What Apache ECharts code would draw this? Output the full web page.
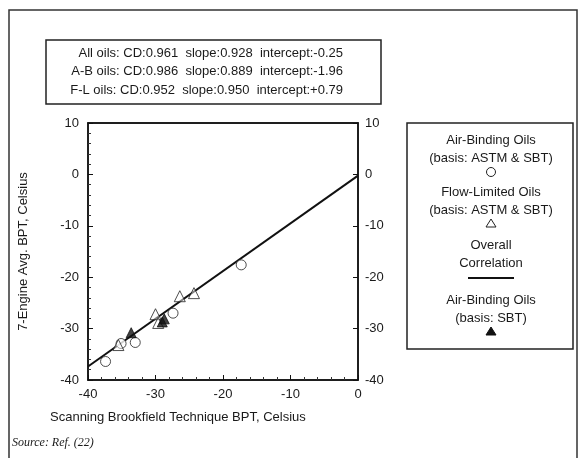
<!DOCTYPE html>
<html><head><meta charset="utf-8">
<script src="https://cdn.jsdelivr.net/npm/echarts@6/dist/echarts.min.js"></script>
<style>html,body{margin:0;padding:0;background:#fff}#c{width:586px;height:458px}</style>
</head><body><div id="c"></div>
<script>
const airBinding = [[-37.4,-36.4],[-35.1,-32.9],[-33.0,-32.7],[-27.4,-27.0],[-17.3,-17.6]];
const flowLimited = [[-26.4,-23.7],[-24.3,-23.1],[-30.0,-27.2],[-29.6,-28.9],[-35.5,-33.2]];
const airBindingSBT = [[-33.6,-30.8],[-29.0,-28.7],[-28.7,-28.1]];
const fitX = [-40, 0];
const fitY = [-37.37, -0.25];
const statLines = [
  'All oils: CD:0.961  slope:0.928  intercept:-0.25',
  'A-B oils: CD:0.986  slope:0.889  intercept:-1.96',
  'F-L oils: CD:0.952  slope:0.950  intercept:+0.79'
];
const legendItems = [
  {text:'Air-Binding Oils\n(basis: ASTM & SBT)', mark:'circle'},
  {text:'Flow-Limited Oils\n(basis: ASTM & SBT)', mark:'triangle'},
  {text:'Overall\nCorrelation', mark:'line'},
  {text:'Air-Binding Oils\n(basis: SBT)', mark:'filled'}
];
const xTitle = 'Scanning Brookfield Technique BPT, Celsius';
const yTitle = '7-Engine Avg. BPT, Celsius';
const source = 'Source: Ref. (22)';

const FONT = '"Liberation Sans", Arial, sans-serif';
const TXT = '#1a1a1a';
const chart = echarts.init(document.getElementById('c'), null, {renderer:'canvas'});

const axisCommon = {
  axisLine:{show:true, onZero:false, lineStyle:{color:'#111', width:1.5}},
  axisTick:{show:true, inside:true, length:5, lineStyle:{color:'#111'}},
  minorTick:{show:true, splitNumber:5, length:3, lineStyle:{color:'#333'}},
  splitLine:{show:false},
  axisLabel:{color:TXT, fontFamily:FONT, fontSize:13}
};

const graphics = [];
graphics.push({type:'rect', shape:{x:9, y:10, width:568, height:470}, style:{fill:'none', stroke:'#333', lineWidth:1.5}, z:0});
graphics.push({type:'rect', shape:{x:46, y:40, width:335, height:64}, style:{fill:'none', stroke:'#222', lineWidth:1.5}});
statLines.forEach((t,i)=>{
  graphics.push({type:'text', x:343, y:53+i*18.5, style:{text:t, fill:TXT, font:'13px '+FONT, textAlign:'right', textVerticalAlign:'middle'}});
});
graphics.push({type:'rect', shape:{x:407, y:123, width:166, height:226}, style:{fill:'none', stroke:'#222', lineWidth:1.5}});
const legCx = 491;
const legTops = [140, 192, 245, 300];
legendItems.forEach((it,i)=>{
  const y0 = legTops[i];
  graphics.push({type:'text', x:legCx, y:y0+9, style:{text:it.text, fill:TXT, font:'13px '+FONT, textAlign:'center', textVerticalAlign:'middle', lineHeight:18}});
  const my = y0 + 33;
  if (it.mark==='circle') graphics.push({type:'circle', shape:{cx:legCx, cy:my-1, r:4.5}, style:{fill:'#fff', stroke:'#222', lineWidth:1}});
  if (it.mark==='triangle') graphics.push({type:'polygon', shape:{points:[[legCx,my-6],[legCx-5,my+2],[legCx+5,my+2]]}, style:{fill:'#fff', stroke:'#222', lineWidth:1}});
  if (it.mark==='filled') graphics.push({type:'polygon', shape:{points:[[legCx,my-6],[legCx-5,my+2],[legCx+5,my+2]]}, style:{fill:'#111', stroke:'#111', lineWidth:1}});
  if (it.mark==='line') graphics.push({type:'line', shape:{x1:legCx-23, y1:my, x2:legCx+23, y2:my}, style:{stroke:'#111', lineWidth:2}});
});
graphics.push({type:'text', x:50, y:417, style:{text:xTitle, fill:TXT, font:'13px '+FONT, textVerticalAlign:'middle'}});
graphics.push({type:'text', x:12, y:443, style:{text:source, fill:TXT, font:'italic 12px "Liberation Serif", "Times New Roman", serif', textVerticalAlign:'middle'}});

const option = {
  animation:false,
  backgroundColor:'#fff',
  grid:{left:88, right:228, top:123, bottom:78, show:true, borderColor:'#111', borderWidth:1.5, backgroundColor:'transparent'},
  xAxis:[
    Object.assign({}, axisCommon, {type:'value', min:-40, max:0, interval:10, position:'bottom', axisLabel:Object.assign({}, axisCommon.axisLabel, {margin:8})}),
    {type:'value', min:-40, max:0, interval:10, position:'top', axisLine:{show:true, onZero:false, lineStyle:{color:'#111', width:1.5}}, axisTick:{show:false}, axisLabel:{show:false}, splitLine:{show:false}}
  ],
  yAxis:[
    Object.assign({}, axisCommon, {type:'value', min:-40, max:10, interval:10, position:'left',
      name:yTitle, nameLocation:'middle', nameGap:58, nameRotate:90,
      nameTextStyle:{color:TXT, fontFamily:FONT, fontSize:13},
      axisLabel:Object.assign({}, axisCommon.axisLabel, {margin:9})}),
    Object.assign({}, axisCommon, {type:'value', min:-40, max:10, interval:10, position:'right',
      minorTick:{show:false},
      axisLabel:Object.assign({}, axisCommon.axisLabel, {margin:7})})
  ],
  series:[
    {type:'line', data:fitX.map((x,i)=>[x, fitY[i]]), symbol:'none', lineStyle:{color:'#111', width:2}, z:2},
    {type:'scatter', data:airBinding, symbol:'circle', symbolSize:10, itemStyle:{color:'#fff', borderColor:'#222', borderWidth:1}, z:3},
    {type:'scatter', data:flowLimited, symbol:'triangle', symbolSize:11, itemStyle:{color:'rgba(255,255,255,0.6)', borderColor:'#222', borderWidth:1}, z:4},
    {type:'scatter', data:airBindingSBT, symbol:'triangle', symbolSize:10, itemStyle:{color:'#111', borderColor:'#111', borderWidth:1}, z:5}
  ],
  graphic:graphics
};
chart.setOption(option);
</script></body></html>
